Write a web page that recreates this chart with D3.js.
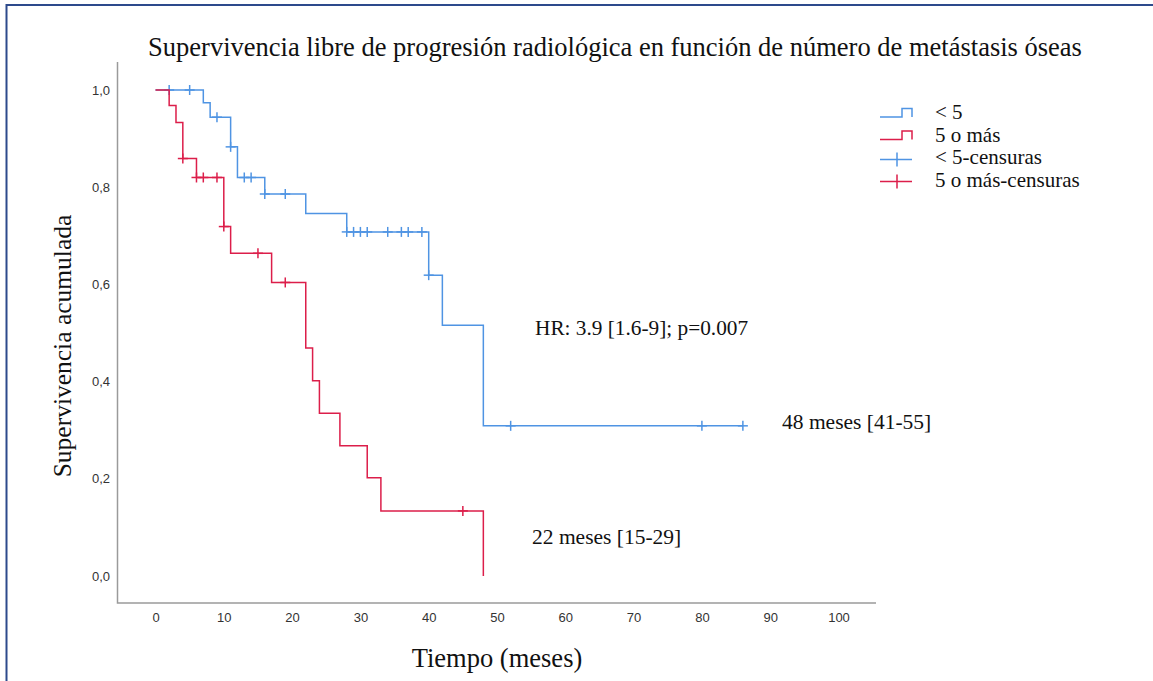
<!DOCTYPE html>
<html lang="es">
<head>
<meta charset="UTF-8">
<title>Supervivencia libre de progresión radiológica</title>
<style>
    body { margin: 0; background: #fff; }
    svg { display: block; }
    .serif { font-family: "Liberation Serif", "Times New Roman", serif; fill: #111; }
    .tick text { font-family: "Liberation Sans", Arial, sans-serif; font-size: 13px; fill: #333; }
</style>
</head>
<body>
<svg id="chart" width="1153" height="681"></svg>
<script src="https://cdn.jsdelivr.net/npm/d3@7"></script>
<script>
// ---- data ----
const xTicks = [0, 10, 20, 30, 40, 50, 60, 70, 80, 90, 100];
const yTicks = [0, 0.2, 0.4, 0.6, 0.8, 1.0];

// group "< 5"
const lowTimes = [0, 7, 8, 11, 12, 16, 22, 28, 40, 42, 48];
const lowSurv  = [1, 0.974, 0.944, 0.883, 0.82, 0.786, 0.746, 0.708, 0.619, 0.516, 0.309];
const lowEnd = 86;
const lowCensored = [2, 5, 9, 11, 13, 14, 16, 19, 28, 29, 30, 31, 34, 36, 37, 39, 40, 52, 80, 86];

// group "5 o más"
const highTimes = [0, 2, 3, 4, 6, 10, 11, 17, 22, 23, 24, 27, 31, 33, 48];
const highSurv  = [1, 0.968, 0.933, 0.859, 0.82, 0.719, 0.664, 0.604, 0.469, 0.402, 0.335, 0.268, 0.202, 0.134, 0];
const highEnd = 48;
const highCensored = [4, 6, 7, 9, 10, 15, 19, 45];

const legendLabels = ["< 5", "5 o más", "< 5-censuras", "5 o más-censuras"];

const blue = "#4f94e3", red = "#dc1e4a";

const svg = d3.select("#chart");

// outer frame (left + top)
svg.append("path")
    .attr("d", "M6.5,681 V5 H1153")
    .attr("fill", "none")
    .attr("stroke", "#2d4a8c")
    .attr("stroke-width", 2);

const x = d3.scaleLinear().domain([0, 100]).range([155.5, 838.5]);
const y = d3.scaleLinear().domain([0, 1]).range([576, 90]);

// axis frame lines
svg.append("path")
    .attr("d", "M117.5,62 V603 H876")
    .attr("fill", "none")
    .attr("stroke", "#9a9a9a")
    .attr("stroke-width", 1.5);

// tick labels only (no tick marks)
const xAxis = svg.append("g")
    .attr("transform", "translate(0,613)")
    .call(d3.axisBottom(x).tickValues(xTicks).tickSize(0).tickPadding(0));
xAxis.select(".domain").remove();
xAxis.selectAll("text").attr("dy", "0.71em");

const yAxis = svg.append("g")
    .attr("transform", "translate(110,0)")
    .call(d3.axisLeft(y).tickValues(yTicks).tickSize(0).tickPadding(0)
        .tickFormat(d => d3.format(".1f")(d).replace(".", ",")));
yAxis.select(".domain").remove();

// step curve helper
function stepPoints(times, surv, end) {
    const pts = [];
    times.forEach((t, i) => {
        if (i > 0) pts.push([t, surv[i - 1]]);
        pts.push([t, surv[i]]);
    });
    pts.push([end, surv[surv.length - 1]]);
    return pts;
}
function survAt(times, surv, t) {
    let s = surv[0];
    times.forEach((tt, i) => { if (tt <= t) s = surv[i]; });
    return s;
}

const line = d3.line().x(d => x(d[0])).y(d => y(d[1]));

function drawGroup(times, surv, end, censored, color) {
    svg.append("path")
        .datum(stepPoints(times, surv, end))
        .attr("d", line)
        .attr("fill", "none")
        .attr("stroke", color)
        .attr("stroke-width", 1.5);
    const c = svg.append("g").attr("stroke", color).attr("stroke-width", 1.5);
    censored.forEach(t => {
        const cx = x(t), cy = y(survAt(times, surv, t));
        c.append("line").attr("x1", cx).attr("x2", cx).attr("y1", cy - 5).attr("y2", cy + 5);
        c.append("line").attr("x1", cx - 5).attr("x2", cx + 5).attr("y1", cy).attr("y2", cy);
    });
}

drawGroup(lowTimes, lowSurv, lowEnd, lowCensored, blue);
drawGroup(highTimes, highSurv, highEnd, highCensored, red);

// titles
svg.append("text").attr("class", "serif")
    .attr("x", 615).attr("y", 56)
    .attr("text-anchor", "middle").attr("font-size", 26.5)
    .text("Supervivencia libre de progresión radiológica en función de número de metástasis óseas");

svg.append("text").attr("class", "serif")
    .attr("transform", "translate(71,346) rotate(-90)")
    .attr("text-anchor", "middle").attr("font-size", 25.5)
    .text("Supervivencia acumulada");

svg.append("text").attr("class", "serif")
    .attr("x", 497).attr("y", 667)
    .attr("text-anchor", "middle").attr("font-size", 26.5)
    .text("Tiempo (meses)");

// annotations
svg.append("text").attr("class", "serif").attr("x", 535).attr("y", 335)
    .attr("font-size", 21.3).text("HR: 3.9 [1.6-9]; p=0.007");
svg.append("text").attr("class", "serif").attr("x", 782).attr("y", 429)
    .attr("font-size", 21.5).text("48 meses [41-55]");
svg.append("text").attr("class", "serif").attr("x", 532).attr("y", 544)
    .attr("font-size", 21.5).text("22 meses [15-29]");

// legend
const legend = svg.append("g").attr("transform", "translate(880,0)");
const legendY = [117, 139.5, 159.5, 181.5];
const legendText = [119, 141.5, 164, 187];
const legendColors = [blue, red, blue, red];
legendLabels.forEach((lab, i) => {
    const ly = legendY[i];
    const col = legendColors[i];
    if (i < 2) {
        legend.append("path")
            .attr("d", `M0,${ly} H22 V${ly - 8.5} H32 V${ly}`)
            .attr("fill", "none").attr("stroke", col).attr("stroke-width", 1.5);
    } else {
        legend.append("path")
            .attr("d", `M0,${ly} H32 M17,${ly - 7} V${ly + 7}`)
            .attr("fill", "none").attr("stroke", col).attr("stroke-width", 1.5);
    }
    legend.append("text").attr("class", "serif")
        .attr("x", 55).attr("y", legendText[i])
        .attr("font-size", 21)
        .text(lab);
});
</script>
</body>
</html>
